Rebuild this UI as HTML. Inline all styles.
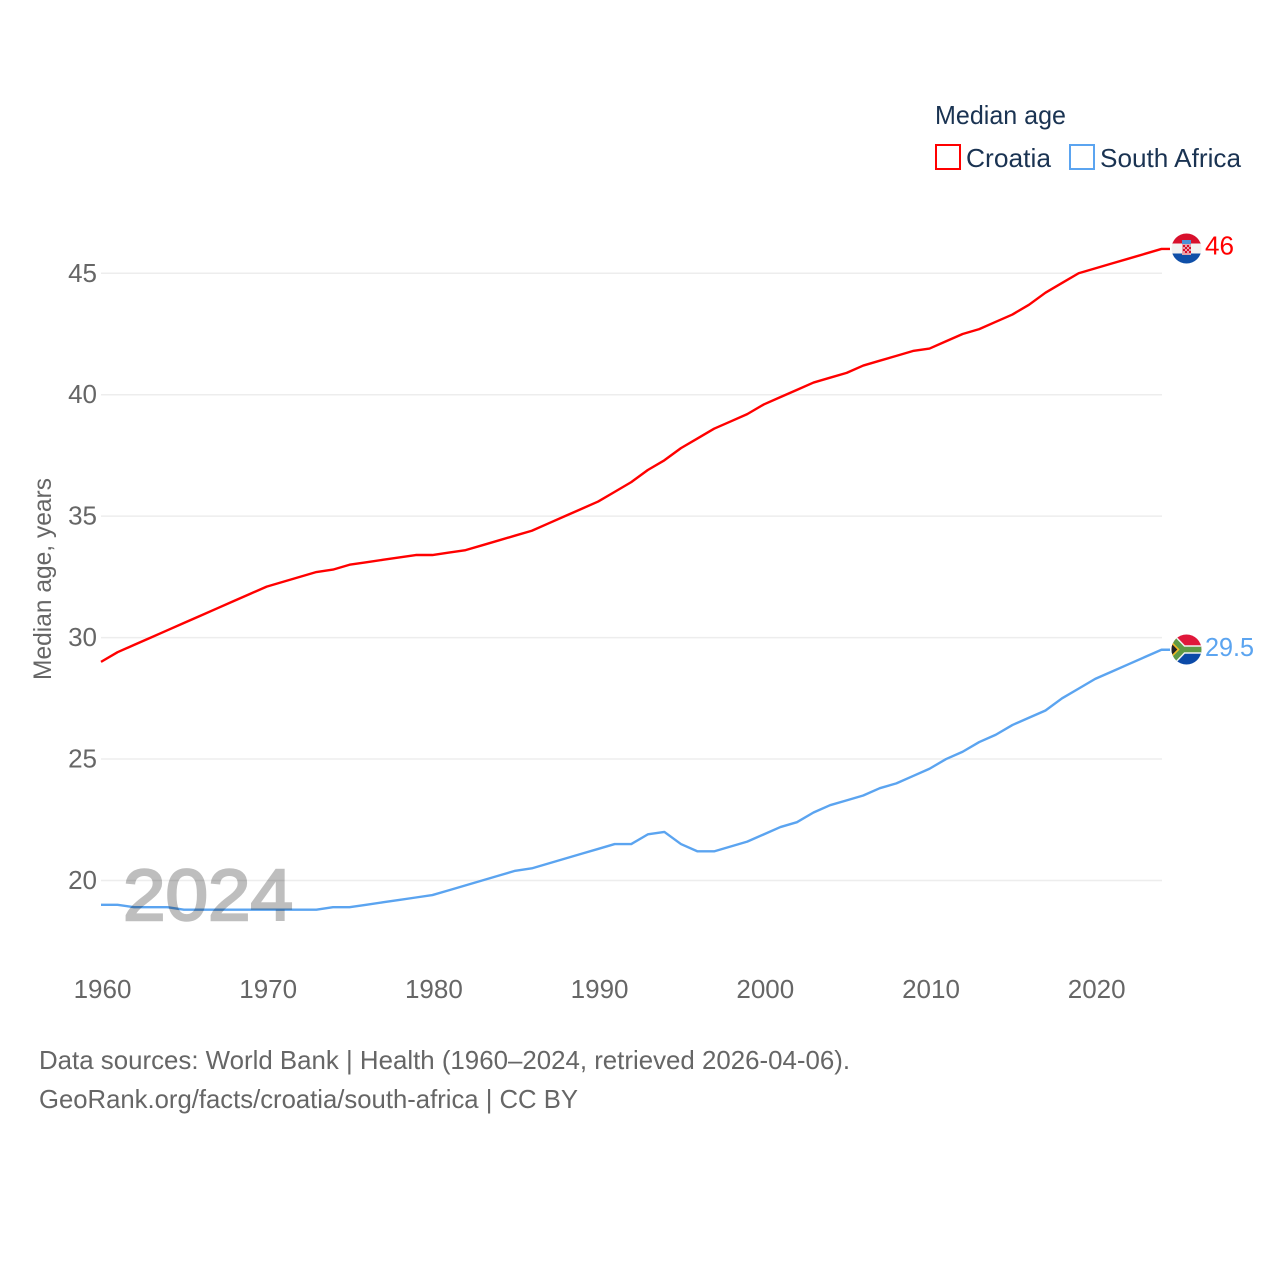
<!DOCTYPE html>
<html>
<head>
<meta charset="utf-8">
<title>Median age: Croatia and South Africa</title>
<style>
html,body{margin:0;padding:0;background:#fff;width:1280px;height:1280px;overflow:hidden}
svg{display:block;font-family:"Liberation Sans",sans-serif}
</style>
</head>
<body>
<svg id="chart" width="1280" height="1280" viewBox="0 0 1280 1280" xmlns="http://www.w3.org/2000/svg">
  <defs>
    <clipPath id="clip-hr"><circle cx="1186.5" cy="248.5" r="15"/></clipPath>
    <clipPath id="clip-za"><circle cx="1186.5" cy="649.5" r="15"/></clipPath>
  </defs>
  <g id="grid"></g>
  <g id="y-ticks"></g>
  <g id="x-ticks"></g>
  <text transform="translate(51,680) rotate(-90)" font-size="25" fill="#666" textLength="202" lengthAdjust="spacingAndGlyphs">Median age, years</text>
  <g id="series"></g>
  <text x="123" y="920" font-size="72" fill="#000" stroke="#000" stroke-width="2.4" opacity="0.25" textLength="170" lengthAdjust="spacingAndGlyphs">2024</text>

  <g>
    <text x="935" y="124" font-size="26" fill="#1a3352" textLength="131" lengthAdjust="spacingAndGlyphs">Median age</text>
    <rect x="936" y="145" width="24" height="24" fill="none" stroke="#ff0000" stroke-width="2"/>
    <text x="966" y="167" font-size="26" fill="#1a3352" textLength="85" lengthAdjust="spacingAndGlyphs">Croatia</text>
    <rect x="1070" y="145" width="24" height="24" fill="none" stroke="#5ba4f0" stroke-width="2"/>
    <text x="1100" y="167" font-size="26" fill="#1a3352" textLength="141" lengthAdjust="spacingAndGlyphs">South Africa</text>
  </g>

  <g clip-path="url(#clip-hr)">
    <rect x="1171" y="233" width="31" height="11" fill="#d8102c"/>
    <rect x="1171" y="243.5" width="31" height="10.5" fill="#f2f2f2"/>
    <rect x="1171" y="253.5" width="31" height="11" fill="#0f4fa8"/>
    <rect x="1182" y="240" width="9" height="4" fill="#4a90d6"/>
    <rect x="1182" y="244" width="9" height="11" fill="#e8a0a8"/>
    <rect x="1183" y="245" width="2" height="2" fill="#d8102c"/>
    <rect x="1187" y="245" width="2" height="2" fill="#d8102c"/>
    <rect x="1185" y="247" width="2" height="2" fill="#d8102c"/>
    <rect x="1189" y="247" width="2" height="2" fill="#d8102c"/>
    <rect x="1183" y="249" width="2" height="2" fill="#d8102c"/>
    <rect x="1187" y="249" width="2" height="2" fill="#d8102c"/>
    <rect x="1185" y="251" width="2" height="2" fill="#d8102c"/>
    <rect x="1189" y="251" width="2" height="2" fill="#d8102c"/>
  </g>
  <g clip-path="url(#clip-za)">
    <rect x="1171" y="634" width="31" height="16" fill="#e0173a"/>
    <rect x="1171" y="649.5" width="31" height="16" fill="#0b4aa8"/>
    <path d="M1171 637 L1183 649.5 L1171 662 M1183 649.5 H1203" fill="none" stroke="#f0f0f0" stroke-width="8.5"/>
    <path d="M1171 637 L1183 649.5 L1171 662 M1183 649.5 H1203" fill="none" stroke="#5f9a45" stroke-width="5.5"/>
    <path d="M1170 641 L1178.5 649.5 L1170 658Z" fill="#222" stroke="#f2b820" stroke-width="1.6"/>
  </g>

  <text x="1205" y="254.5" font-size="26" fill="#ff0000" textLength="29" lengthAdjust="spacingAndGlyphs">46</text>
  <text x="1205" y="656" font-size="26" fill="#5ba4f0" textLength="49" lengthAdjust="spacingAndGlyphs">29.5</text>

  <text x="39" y="1069" font-size="26" fill="#666" textLength="811" lengthAdjust="spacingAndGlyphs">Data sources: World Bank | Health (1960–2024, retrieved 2026-04-06).</text>
  <text x="39" y="1108" font-size="26" fill="#666" textLength="539" lengthAdjust="spacingAndGlyphs">GeoRank.org/facts/croatia/south-africa | CC BY</text>
</svg>
<script>
var startYear = 1960;
var yTickValues = [20, 25, 30, 35, 40, 45];
var xTickValues = [1960, 1970, 1980, 1990, 2000, 2010, 2020];
var croatiaValues = [29.0,29.4,29.7,30.0,30.3,30.6,30.9,31.2,31.5,31.8,32.1,32.3,32.5,32.7,32.8,33.0,33.1,33.2,33.3,33.4,33.4,33.5,33.6,33.8,34.0,34.2,34.4,34.7,35.0,35.3,35.6,36.0,36.4,36.9,37.3,37.8,38.2,38.6,38.9,39.2,39.6,39.9,40.2,40.5,40.7,40.9,41.2,41.4,41.6,41.8,41.9,42.2,42.5,42.7,43.0,43.3,43.7,44.2,44.6,45.0,45.2,45.4,45.6,45.8,46.0];
var southAfricaValues = [19.0,19.0,18.9,18.9,18.9,18.8,18.8,18.8,18.8,18.8,18.8,18.8,18.8,18.8,18.9,18.9,19.0,19.1,19.2,19.3,19.4,19.6,19.8,20.0,20.2,20.4,20.5,20.7,20.9,21.1,21.3,21.5,21.5,21.9,22.0,21.5,21.2,21.2,21.4,21.6,21.9,22.2,22.4,22.8,23.1,23.3,23.5,23.8,24.0,24.3,24.6,25.0,25.3,25.7,26.0,26.4,26.7,27.0,27.5,27.9,28.3,28.6,28.9,29.2,29.5];

var NS = 'http://www.w3.org/2000/svg';
function xScale(year) { return 101 + (year - 1960) * 16.57; }
function yScale(v) { return 880.5 - (v - 20) * 24.29; }
function make(tag, attrs, parent) {
  var el = document.createElementNS(NS, tag);
  for (var k in attrs) el.setAttribute(k, attrs[k]);
  parent.appendChild(el);
  return el;
}
var gridG = document.getElementById('grid');
var yG = document.getElementById('y-ticks');
var xG = document.getElementById('x-ticks');
var seriesG = document.getElementById('series');

yTickValues.forEach(function (v) {
  var line = make('line', {x1: 101, x2: 1162, y1: yScale(v), y2: yScale(v), stroke: '#ededed', 'stroke-width': 1.5}, gridG);
  
  
  var t = make('text', {x: 97, y: yScale(v) + 8.5, 'font-size': 26, fill: '#666', 'text-anchor': 'end'}, yG);
  t.textContent = v;
  
  
});
xTickValues.forEach(function (yr) {
  var t = make('text', {x: xScale(yr) + 1.5, y: 998, 'font-size': 26, fill: '#666', 'text-anchor': 'middle'}, xG);
  t.textContent = yr;
  
  
});
function drawSeries(values, color) {
  var pts = values.map(function (v, i) { return xScale(startYear + i).toFixed(2) + ',' + yScale(v).toFixed(2); });
  var lastV = values[values.length - 1];
  pts.push('1170,' + yScale(lastV).toFixed(2));
  return make('polyline', {points: pts.join(' '), fill: 'none', stroke: color, 'stroke-width': 2.4, 'stroke-linejoin': 'round'}, seriesG);
}
var lineHr = drawSeries(croatiaValues, '#ff0000');


var lineZa = drawSeries(southAfricaValues, '#5ba4f0');


</script>
</body>
</html>
